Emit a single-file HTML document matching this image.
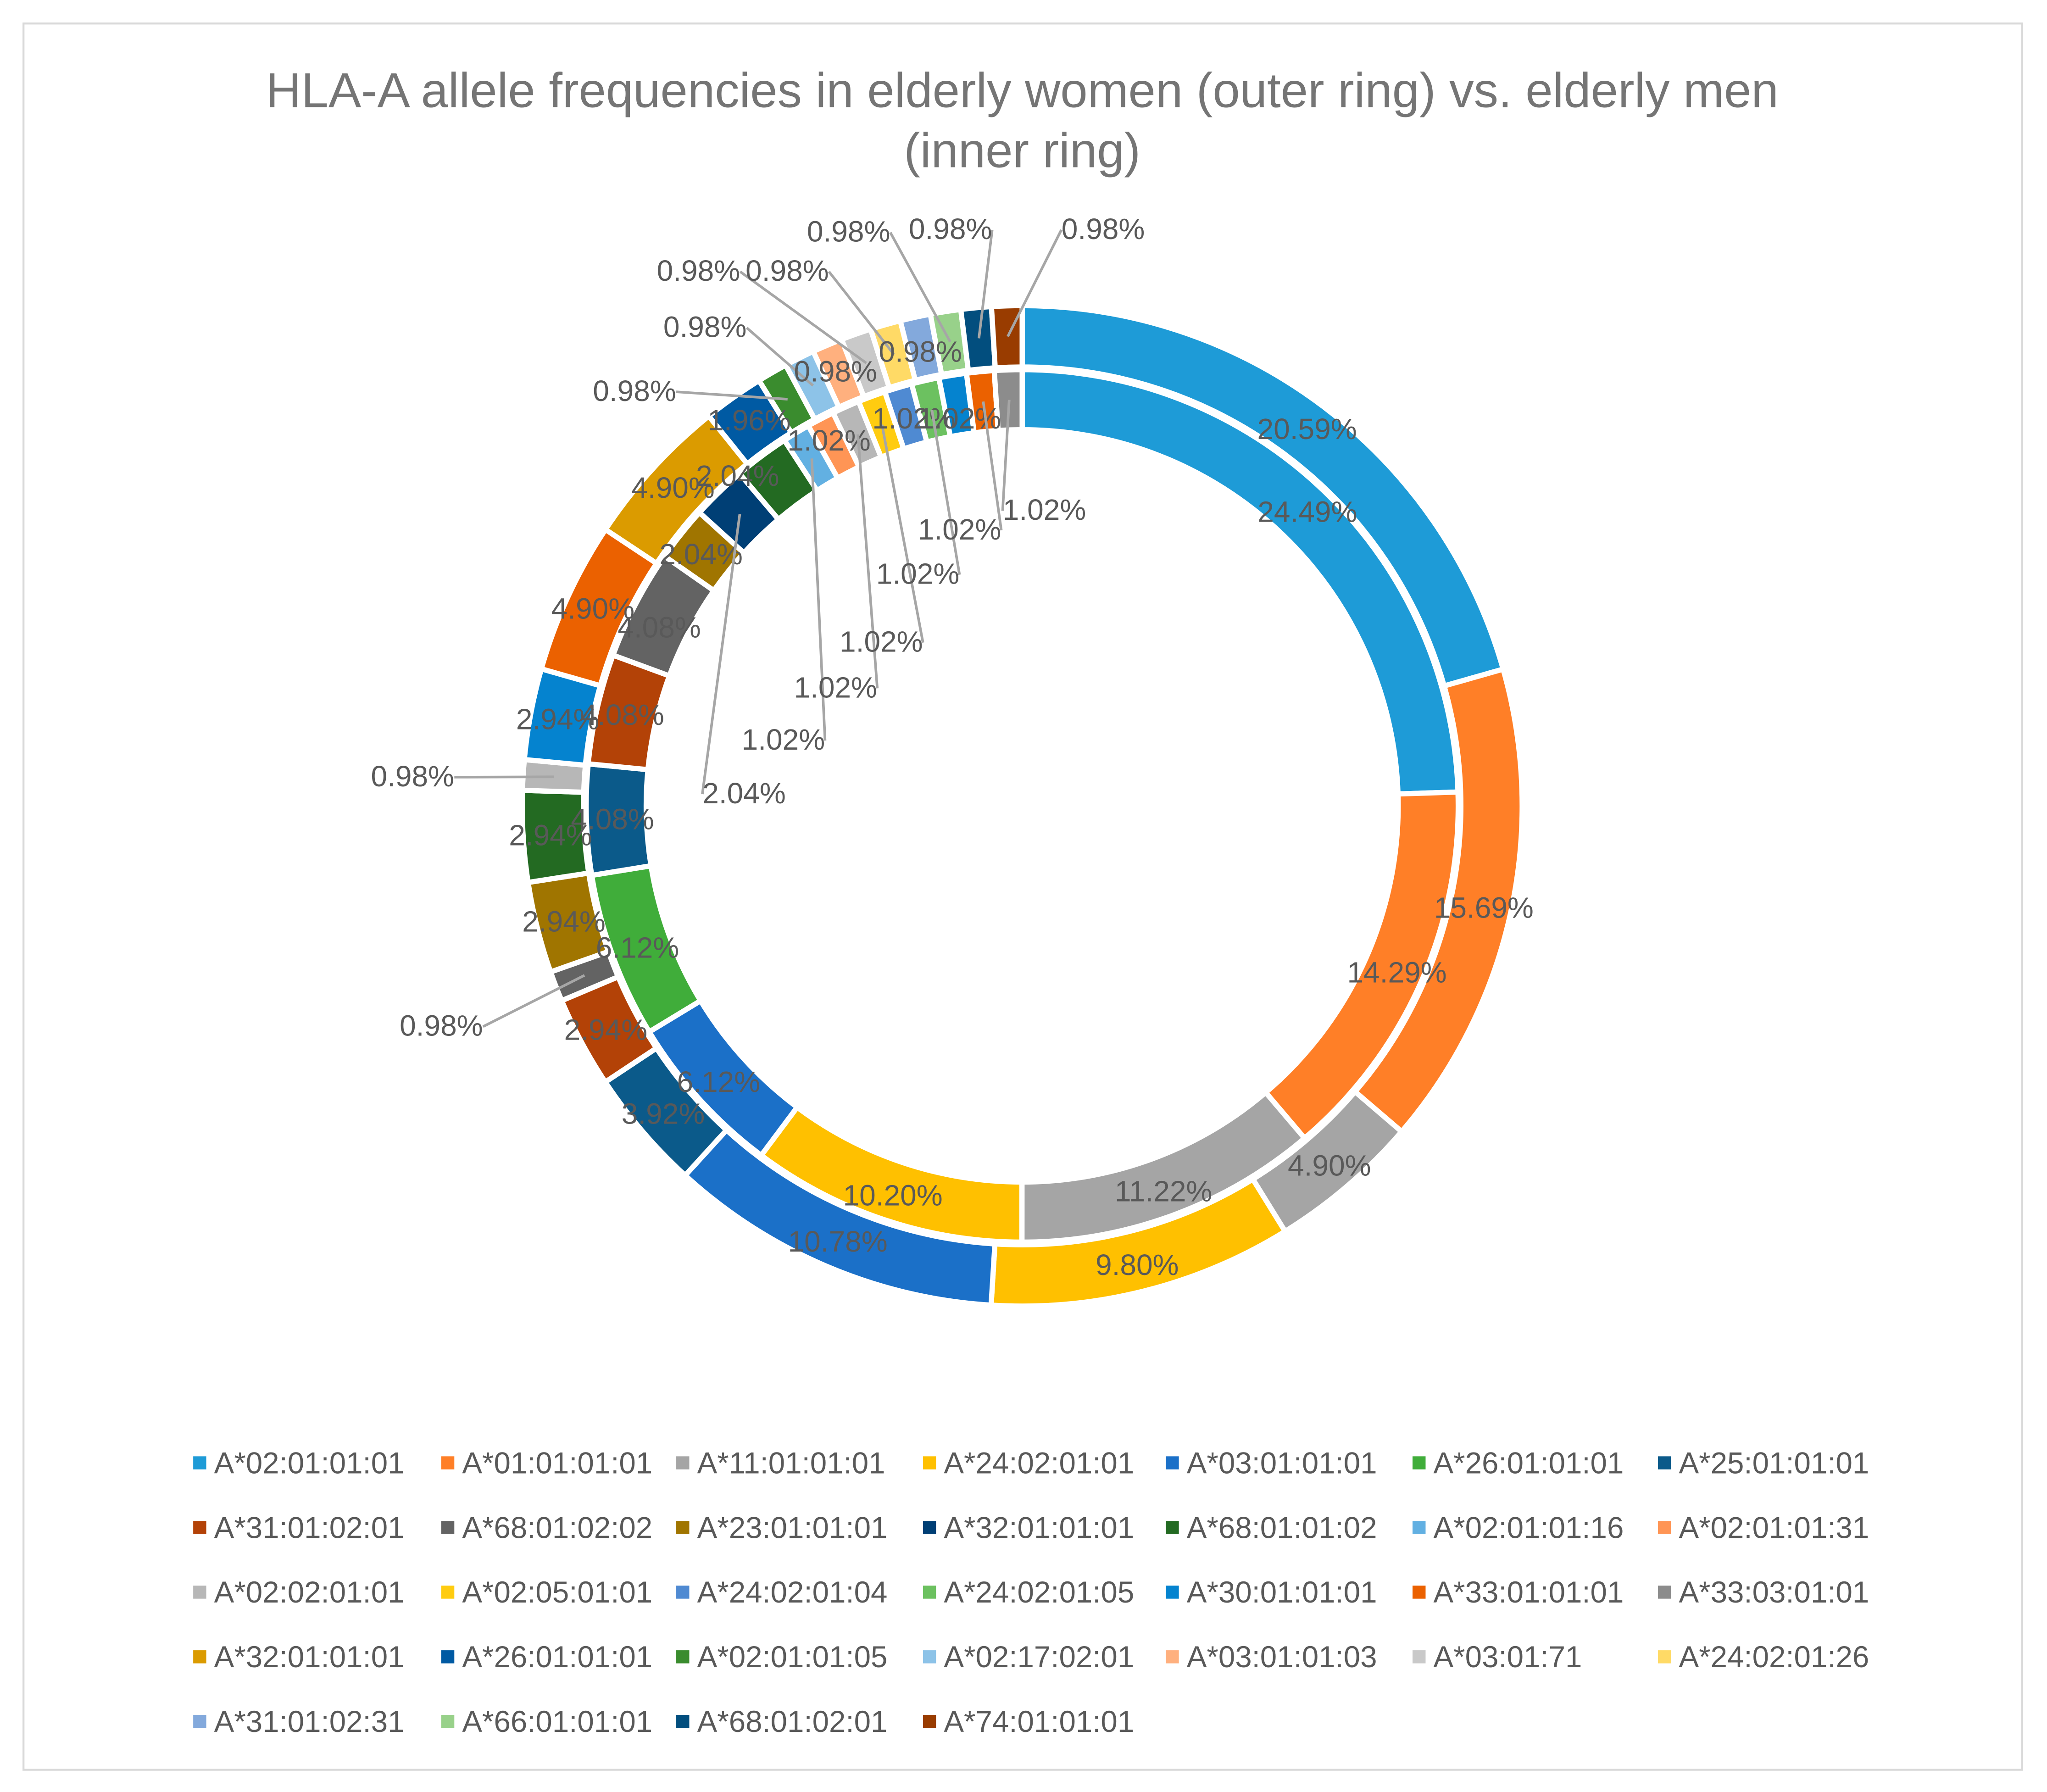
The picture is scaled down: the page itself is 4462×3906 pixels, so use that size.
<!DOCTYPE html>
<html><head><meta charset="utf-8">
<style>
html,body{margin:0;padding:0;background:#fff;}
svg{display:block;}
text{font-family:"Liberation Sans",sans-serif;}
</style></head>
<body>
<svg id="chart" width="4462" height="3906" viewBox="0 0 1568 1372" preserveAspectRatio="none" xmlns="http://www.w3.org/2000/svg">
<rect x="18" y="18" width="1531" height="1337" fill="#fff" stroke="#d9d9d9" stroke-width="1.5"/>
<text x="783" y="82" text-anchor="middle" font-size="37.5" fill="#757575">HLA-A allele frequencies in elderly women (outer ring) vs. elderly men</text>
<text x="783" y="128" text-anchor="middle" font-size="37.5" fill="#757575">(inner ring)</text>
<g id="rings"></g>
<g id="labels"></g>
<g id="legend"></g>
</svg>
<script>
const categories=["A*02:01:01:01","A*01:01:01:01","A*11:01:01:01","A*24:02:01:01","A*03:01:01:01","A*26:01:01:01","A*25:01:01:01","A*31:01:02:01","A*68:01:02:02","A*23:01:01:01","A*32:01:01:01","A*68:01:01:02","A*02:01:01:16","A*02:01:01:31","A*02:02:01:01","A*02:05:01:01","A*24:02:01:04","A*24:02:01:05","A*30:01:01:01","A*33:01:01:01","A*33:03:01:01","A*32:01:01:01","A*26:01:01:01","A*02:01:01:05","A*02:17:02:01","A*03:01:01:03","A*03:01:71","A*24:02:01:26","A*31:01:02:31","A*66:01:01:01","A*68:01:02:01","A*74:01:01:01"];
const women=[20.59,15.69,4.90,9.80,10.78,0,3.92,2.94,0.98,2.94,0,2.94,0,0,0.98,0,0,0,2.94,4.90,0,4.90,1.96,0.98,0.98,0.98,0.98,0.98,0.98,0.98,0.98,0.98];
const men=[24.49,14.29,11.22,10.20,6.12,6.12,4.08,4.08,4.08,2.04,2.04,2.04,1.02,1.02,1.02,1.02,1.02,1.02,1.02,1.02,1.02,0,0,0,0,0,0,0,0,0,0,0];
const colors=["#1E9BD7","#FF7F27","#A5A5A5","#FFC000","#1B70C8","#40AD3A","#0B5A8A","#B34207","#636363","#A07500","#003F75","#236A22","#62B0E2","#FF9555","#B7B7B7","#FFCC10","#4F8AD2","#6CC160","#0583CF","#EB6100","#8C8C8C","#DB9B00","#005AA3","#3A8C2E","#8DC3E8","#FFB07E","#C9C9C9","#FFDA66","#83A9DC","#98D18A","#024E7E","#993C00"];
// label placement (layout only)
const outerLabelPos={8:[338,793],14:[316,602],23:[486,307],24:[540,258],25:[640,292],26:[535,215],27:[603,215],28:[705,277],29:[650,185],30:[728,183],31:[845,183]};
const innerLabelPos={20:[800,398],19:[735,413],18:[735,328],17:[703,447],16:[700,328],15:[675,499],14:[640,534],13:[635,345],12:[600,574],11:[565,372],10:[570,615],9:[537,432],8:[505,488]};
const cx=783,cy=617;
const NS="http://www.w3.org/2000/svg";
function pt(r,a){return [cx+r*Math.sin(a),cy-r*Math.cos(a)];}
function arc(r0,r1,a0,a1){
  const large=(a1-a0)>Math.PI?1:0;
  const p1=pt(r1,a0),p2=pt(r1,a1),p3=pt(r0,a1),p4=pt(r0,a0);
  return `M${p1[0]},${p1[1]} A${r1},${r1} 0 ${large} 1 ${p2[0]},${p2[1]} L${p3[0]},${p3[1]} A${r0},${r0} 0 ${large} 0 ${p4[0]},${p4[1]} Z`;
}
const ringsG=document.getElementById('rings');
const labelsG=document.getElementById('labels');
function drawRing(vals,r0,r1,ringName,labelR,posMap){
  const total=vals.reduce((s,v)=>s+v,0);
  let a=0;
  vals.forEach((v,i)=>{
    if(v<=0)return;
    const a0=a,a1=a+v/total*2*Math.PI; a=a1;
    const p=document.createElementNS(NS,'path');
    p.setAttribute('d',arc(r0,r1,a0,a1));
    p.setAttribute('fill',colors[i]);
    p.setAttribute('stroke','#fff');
    p.setAttribute('stroke-width','4');
    
    
    ringsG.appendChild(p);
    const mid=(a0+a1)/2;
    let lx,ly;
    if(posMap[i]){
      [lx,ly]=posMap[i];
      const e=pt((r0+r1)/2,mid);
      const dx=lx-e[0],dy=(ly-7)-e[1];
      if(Math.hypot(dx,dy)>45){
        const ln=document.createElementNS(NS,'polyline');
        const sx=lx+(lx<e[0]?32:-32);
        ln.setAttribute('points',`${e[0]},${e[1]} ${sx},${ly-7}`);
        ln.setAttribute('fill','none');
        ln.setAttribute('stroke','#a6a6a6');
        ln.setAttribute('stroke-width','2');
        
        
        labelsG.appendChild(ln);
      }
    } else {
      const q=pt(labelR,mid); lx=q[0]; ly=q[1]+8;
    }
    const t=document.createElementNS(NS,'text');
    t.setAttribute('x',lx);t.setAttribute('y',ly);
    t.setAttribute('text-anchor','middle');
    t.setAttribute('font-size','22.5');
    t.setAttribute('fill','#595959');
    t.textContent=v.toFixed(2)+'%';
    
    
    labelsG.appendChild(t);
  });
}
drawRing(women,336,383,'outer-ring',362,outerLabelPos);
drawRing(men,288,334,'inner-ring',314,innerLabelPos);
// legend
const legG=document.getElementById('legend');
const colX=[148,338,518,707,893,1082,1270];
categories.forEach((c,i)=>{
  const col=i%7,row=Math.floor(i/7);
  const x=colX[col],y=1120+row*49.5;
  const g=document.createElementNS(NS,'g');
  
  
  const r=document.createElementNS(NS,'rect');
  r.setAttribute('x',x);r.setAttribute('y',y-5);r.setAttribute('width',10);r.setAttribute('height',10);
  r.setAttribute('fill',colors[i]);
  
  
  const t=document.createElementNS(NS,'text');
  t.setAttribute('x',x+16);t.setAttribute('y',y+8);
  t.setAttribute('font-size','23');t.setAttribute('fill','#595959');
  t.textContent=c;
  
  
  g.appendChild(r);g.appendChild(t);legG.appendChild(g);
});
</script>
</body></html>
